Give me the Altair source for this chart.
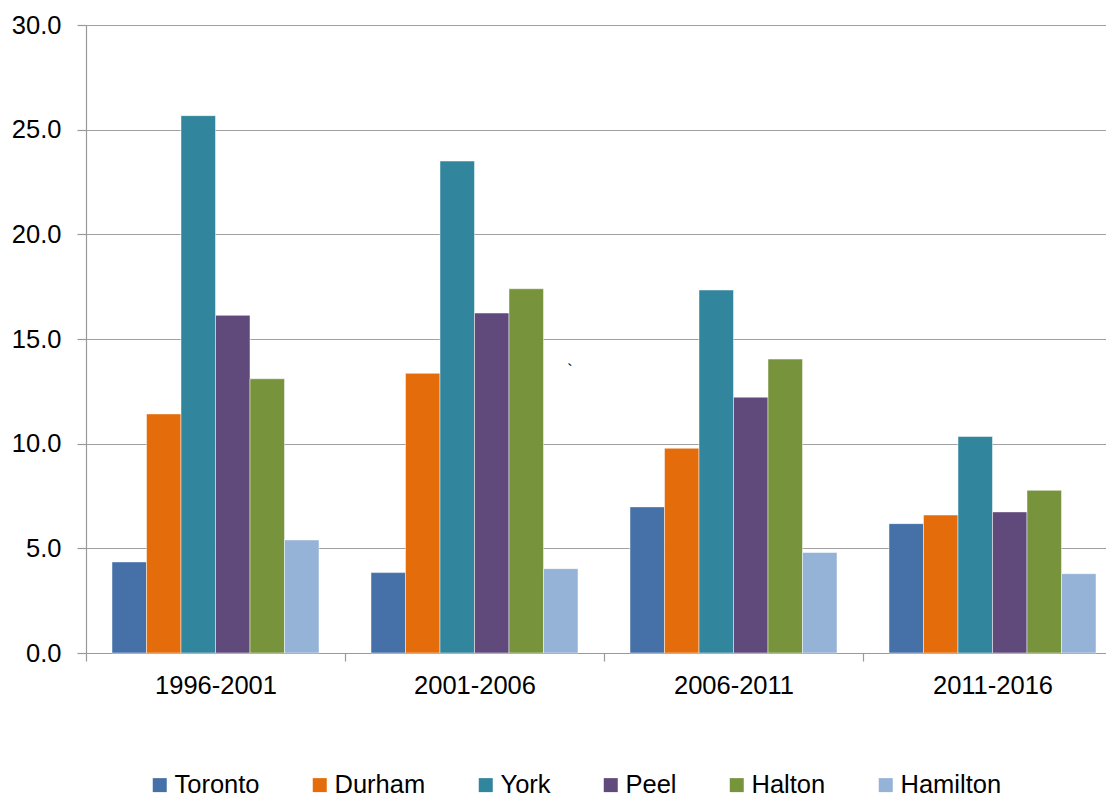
import altair as alt
import pandas as pd

periods = ["1996-2001", "2001-2006", "2006-2011", "2011-2016"]
regions = ["Toronto", "Durham", "York", "Peel", "Halton", "Hamilton"]
colors = ["#4570A8", "#E46C0A", "#31859C", "#604A7B", "#77933C", "#95B3D7"]

toronto = [4.35, 3.84, 6.98, 6.18]
durham = [11.42, 13.36, 9.78, 6.59]
york = [25.67, 23.50, 17.34, 10.34]
peel = [16.13, 16.24, 12.22, 6.74]
halton = [13.10, 17.40, 14.04, 7.77]
hamilton = [5.40, 4.03, 4.80, 3.79]

series = [toronto, durham, york, peel, halton, hamilton]
rows = []
for r, vals in zip(regions, series):
    for p, v in zip(periods, vals):
        rows.append({"period": p, "region": r, "value": v})
df = pd.DataFrame(rows)

FONT = "Liberation Sans"
FS = 25.5

bars = alt.Chart(df).mark_bar(stroke="#ffffff", strokeWidth=0.6, strokeOpacity=0.8).encode(
    x=alt.X("period:N", sort=periods,
            scale=alt.Scale(range=[0, 1036], paddingInner=0, paddingOuter=0),
            axis=alt.Axis(title=None, labelAngle=0, tickBand="extent", tickSize=8,
                          labelPadding=12, labelFontSize=FS, labelFont=FONT,
                          labelColor="#000000", domainColor="#999999", tickColor="#999999",
                          domainWidth=1.2, tickWidth=1.2, grid=False)),
    xOffset=alt.XOffset("region:N", sort=regions,
                        scale=alt.Scale(paddingInner=0, paddingOuter=0.7536)),
    y=alt.Y("value:Q", scale=alt.Scale(domain=[0, 30], nice=False),
            axis=alt.Axis(title=None, values=[0, 5, 10, 15, 20, 25, 30], format=".1f",
                          tickSize=9, labelPadding=16, labelFontSize=FS, labelFont=FONT,
                          labelColor="#000000", domainColor="#999999", tickColor="#999999",
                          gridColor="#a0a0a0", gridWidth=1.2, domainWidth=1.2, tickWidth=1.2)),
    color=alt.Color("region:N", sort=regions,
                    scale=alt.Scale(domain=regions, range=colors),
                    legend=alt.Legend(title=None, orient="none", direction="horizontal",
                                      legendX=61, legendY=747, symbolType="square",
                                      symbolSize=196, symbolStrokeWidth=0, labelFontSize=FS,
                                      labelFont=FONT, labelColor="#000000", labelOffset=2,
                                      columnPadding=47, padding=0, labelLimit=300)),
)

stray = alt.Chart(pd.DataFrame({"t": ["`"]})).mark_text(
    font=FONT, fontSize=16, color="#000000"
).encode(text="t:N", x=alt.value(484), y=alt.value(346))

chart = alt.layer(bars, stray).properties(
    width=1020, height=628,
    autosize=alt.AutoSizeParams(type="none"),
    padding={"left": 78, "top": 17, "right": 0, "bottom": 144},
).configure_view(stroke=None)

chart.save("out.html", embed_options={"renderer": "svg", "actions": False})
